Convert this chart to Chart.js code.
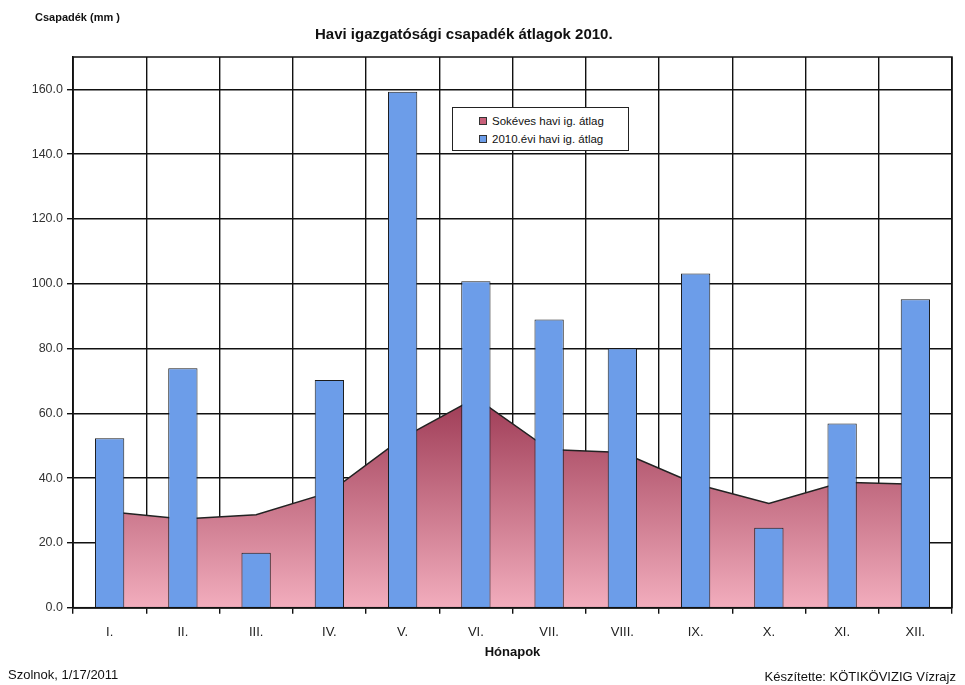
<!DOCTYPE html>
<html>
<head>
<meta charset="utf-8">
<title>Havi igazgatósági csapadék átlagok 2010.</title>
<script src="https://cdn.jsdelivr.net/npm/chart.js@4/dist/chart.umd.min.js"></script>
<style>
  html, body { margin: 0; padding: 0; background: #fff; }
  #wrap { position: relative; width: 965px; height: 685px; font-family: "Liberation Sans", Arial, sans-serif; color: #111; }
  #c { position: absolute; left: 0; top: 0; }
  .t { position: absolute; white-space: nowrap; line-height: 1; }
  #legend { position: absolute; left: 452px; top: 107px; width: 177px; height: 44px; border: 1px solid #222; background: #fff; box-sizing: border-box; }
  .row { position: absolute; left: 26px; height: 14px; display: flex; align-items: center; font-size: 11.5px; color: #111; white-space: nowrap; }
  .sw { width: 6px; height: 6px; border: 1px solid #333; margin-right: 5px; }
</style>
</head>
<body>
<div id="wrap">
  <canvas id="c" width="965" height="685"></canvas>
  <div class="t" style="left:35px; top:12px; font-size:11px; font-weight:bold;">Csapadék (mm )</div>
  <div class="t" style="left:315px; top:26px; font-size:15px; font-weight:bold;">Havi igazgatósági csapadék átlagok 2010.</div>
  <div id="legend"></div>
  <div class="t" style="left:8px; top:668px; font-size:13px;">Szolnok, 1/17/2011</div>
  <div class="t" style="right:9px; top:670px; font-size:13px;">Készítette: KÖTIKÖVIZIG Vízrajz</div>
</div>
<script>
// Months (Roman numerals)
const months = ['I.', 'II.', 'III.', 'IV.', 'V.', 'VI.', 'VII.', 'VIII.', 'IX.', 'X.', 'XI.', 'XII.'];
// Long-term monthly directorate average precipitation (mm)
const longTermAvg = [29.6, 27.4, 28.7, 35.6, 52.4, 64.8, 48.8, 47.9, 38.2, 32.2, 38.7, 38.1];
// 2010 monthly directorate average precipitation (mm)
const avg2010 = [52.3, 73.9, 17.0, 70.3, 159.3, 100.8, 89.0, 80.1, 103.2, 24.7, 56.9, 95.2];
// Value axis ticks
const yTicks = [0, 20, 40, 60, 80, 100, 120, 140, 160];
const yMax = 170;

const seriesNames = ['Sokéves havi ig.  átlag', '2010.évi havi ig. átlag'];
const barColor = '#6c9de9';
const areaTop = '#9e3b55';
const areaBottom = '#f2adbd';

// Legend box
const legend = document.getElementById('legend');
[[seriesNames[0], '#c8607a', 6], [seriesNames[1], barColor, 24]].forEach(([name, col, top]) => {
  const row = document.createElement('div');
  row.className = 'row';
  row.style.top = top + 'px';
  const sw = document.createElement('span');
  sw.className = 'sw';
  sw.style.background = col;
  const tx = document.createElement('span');
  tx.textContent = name;
  row.appendChild(sw);
  row.appendChild(tx);
  legend.appendChild(row);
});

// Frame around the plot area
const plotFrame = {
  id: 'plotFrame',
  afterDraw(chart) {
    const { ctx, chartArea: a } = chart;
    ctx.save();
    ctx.strokeStyle = '#111';
    ctx.lineWidth = 1.5;
    ctx.strokeRect(a.left, a.top, a.right - a.left, a.bottom - a.top);
    ctx.restore();
  }
};

new Chart(document.getElementById('c'), {
  data: {
    labels: months,
    datasets: [
      {
        type: 'bar',
        label: seriesNames[1],
        data: avg2010,
        backgroundColor: barColor,
        borderColor: '#1c1c1c',
        borderWidth: 1,
        categoryPercentage: 1,
        barPercentage: 0.4
      },
      {
        type: 'line',
        label: seriesNames[0],
        data: longTermAvg,
        borderColor: '#222',
        borderWidth: 1.5,
        pointRadius: 0,
        tension: 0,
        fill: 'origin',
        backgroundColor(ctx) {
          const chart = ctx.chart;
          const a = chart.chartArea;
          if (!a) return '#d07a90';
          const yTop = chart.scales.y.getPixelForValue(Math.max(...longTermAvg));
          const g = chart.ctx.createLinearGradient(0, yTop, 0, a.bottom);
          g.addColorStop(0, areaTop);
          g.addColorStop(1, areaBottom);
          return g;
        }
      }
    ]
  },
  options: {
    responsive: false,
    animation: false,
    layout: { padding: { top: 57, right: 13, bottom: 25, left: 0 } },
    plugins: {
      legend: { display: false },
      title: { display: false },
      tooltip: { enabled: false }
    },
    scales: {
      x: {
        type: 'category',
        offset: true,
        grid: { offset: true, color: '#111', lineWidth: 1.4, tickLength: 6, drawTicks: true },
        border: { display: true, color: '#111', width: 1.5 },
        ticks: { color: '#222', font: { family: '"Liberation Sans", Arial, sans-serif', size: 13 }, padding: 11, maxRotation: 0 },
        title: {
          display: true,
          text: 'Hónapok',
          color: '#111',
          font: { family: '"Liberation Sans", Arial, sans-serif', size: 13, weight: 'bold' },
          padding: { top: 0, bottom: 0 }
        },
        afterFit(scale) { scale.height = 52.3; }
      },
      y: {
        min: 0,
        max: yMax,
        afterBuildTicks(scale) { scale.ticks = yTicks.map(v => ({ value: v })); },
        grid: { color: '#111', lineWidth: 1.4, tickLength: 6, drawTicks: true },
        border: { display: true, color: '#111', width: 1.5 },
        ticks: {
          color: '#333',
          padding: 4,
          font: { family: '"Liberation Sans", Arial, sans-serif', size: 12.5 },
          callback: v => Number(v).toFixed(1)
        },
        afterFit(scale) { scale.width = 73; }
      }
    }
  },
  plugins: [plotFrame]
});
</script>
</body>
</html>
